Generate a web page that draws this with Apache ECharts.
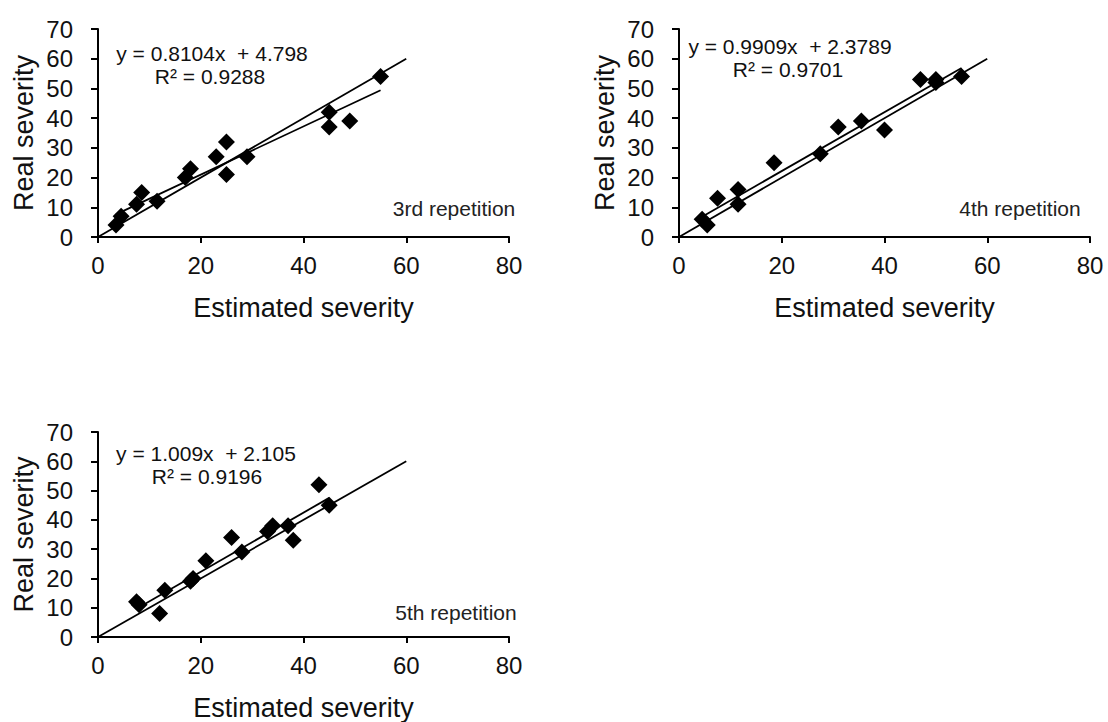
<!DOCTYPE html>
<html>
<head>
<meta charset="utf-8">
<script src="https://cdn.jsdelivr.net/npm/echarts@6/dist/echarts.min.js"></script>
<style>
html,body{margin:0;padding:0;background:#fff;}
#chart{width:1108px;height:722px;}
</style>
</head>
<body>
<div id="chart"></div>
<script>
// ---- data ----
const rep3Estimated = [3.5, 4.5, 7.5, 8.5, 11.5, 17, 18, 23, 25, 25, 29, 45, 45, 49, 55];
const rep3Real      = [4, 7, 11, 15, 12, 20, 23, 27, 32, 21, 27, 42, 37, 39, 54];
const rep4Estimated = [4.5, 5.5, 7.5, 11.5, 11.5, 18.5, 27.5, 31, 35.5, 40, 47, 50, 50, 55];
const rep4Real      = [6, 4, 13, 16, 11, 25, 28, 37, 39, 36, 53, 53, 52, 54];
const rep5Estimated = [7.5, 8, 12, 13, 18, 18.5, 21, 26, 28, 33, 34, 37, 38, 43, 45];
const rep5Real      = [12, 11, 8, 16, 19, 20, 26, 34, 29, 36, 38, 38, 33, 52, 45];
const fitSlope     = [0.8104, 0.9909, 1.009];
const fitIntercept = [4.798, 2.3789, 2.105];
const fitR2        = ['0.9288', '0.9701', '0.9196'];
const repLabels    = ['3rd repetition', '4th repetition', '5th repetition'];
const identityRange = [0, 60];
const xTicks = [0, 20, 40, 60, 80];
const yTicks = [0, 10, 20, 30, 40, 50, 60, 70];

const panels = [
  {est: rep3Estimated, real: rep3Real},
  {est: rep4Estimated, real: rep4Real},
  {est: rep5Estimated, real: rep5Real}
];

// ---- layout ----
const grids = [
  {left: 98, top: 29, width: 411, height: 208},
  {left: 679, top: 29, width: 411, height: 208},
  {left: 98, top: 432, width: 411, height: 208}
];
const FONT = 'Liberation Sans, Arial, sans-serif';
const eqPos = [[212, 53, 210, 76], [790, 46, 788, 69], [206, 453, 207, 476]];
const repPos = [[454, 208], [1020, 208], [456, 612]];

const option = {
  animation: false,
  backgroundColor: '#fff',
  grid: grids.map(g => Object.assign({containLabel: false}, g)),
  xAxis: grids.map((g, i) => ({
    gridIndex: i, type: 'value', min: xTicks[0], max: xTicks[xTicks.length - 1], interval: xTicks[1] - xTicks[0],
    name: 'Estimated severity', nameLocation: 'middle', nameGap: 57,
    nameTextStyle: {fontFamily: FONT, fontSize: 27, color: '#111'},
    axisLine: {show: true, onZero: false, lineStyle: {color: '#000', width: 2}},
    axisTick: {show: true, inside: false, length: 6, lineStyle: {color: '#000', width: 2}},
    axisLabel: {fontFamily: FONT, fontSize: 24, color: '#111', margin: 16},
    splitLine: {show: false}
  })),
  yAxis: grids.map((g, i) => ({
    gridIndex: i, type: 'value', min: yTicks[0], max: yTicks[yTicks.length - 1], interval: yTicks[1] - yTicks[0],
    name: 'Real severity', nameLocation: 'middle', nameGap: 61, nameRotate: 90,
    nameTextStyle: {fontFamily: FONT, fontSize: 27, color: '#111'},
    axisLine: {show: true, onZero: false, lineStyle: {color: '#000', width: 2}},
    axisTick: {show: true, inside: false, length: 7, lineStyle: {color: '#000', width: 2}},
    axisLabel: {fontFamily: FONT, fontSize: 24, color: '#111', margin: 25},
    splitLine: {show: false}
  })),
  series: [],
  graphic: []
};

panels.forEach((p, i) => {
  const pts = p.est.map((x, k) => [x, p.real[k]]);
  const minX = Math.min.apply(null, p.est);
  const maxX = Math.max.apply(null, p.est);
  option.series.push({
    type: 'line', xAxisIndex: i, yAxisIndex: i, symbol: 'none', silent: true,
    lineStyle: {color: '#000', width: 1.8},
    data: identityRange.map(v => [v, v]), z: 2
  });
  option.series.push({
    type: 'line', xAxisIndex: i, yAxisIndex: i, symbol: 'none', silent: true,
    lineStyle: {color: '#000', width: 1.8},
    data: [minX, maxX].map(x => [x, fitSlope[i] * x + fitIntercept[i]]), z: 2
  });
  option.series.push({
    type: 'scatter', xAxisIndex: i, yAxisIndex: i, symbol: 'diamond', symbolSize: 17,
    itemStyle: {color: '#000', opacity: 1}, data: pts, z: 3
  });
  const e = eqPos[i];
  option.graphic.push({type: 'text', x: e[0], y: e[1], style: {
    text: 'y = ' + fitSlope[i] + 'x  + ' + fitIntercept[i], fontFamily: FONT, fontSize: 21, fill: '#111',
    align: 'center', verticalAlign: 'middle'}});
  option.graphic.push({type: 'text', x: e[2], y: e[3], style: {
    text: 'R² = ' + fitR2[i], fontFamily: FONT, fontSize: 21, fill: '#111',
    align: 'center', verticalAlign: 'middle'}});
  option.graphic.push({type: 'text', x: repPos[i][0], y: repPos[i][1], style: {
    text: repLabels[i], fontFamily: FONT, fontSize: 21, fill: '#222',
    align: 'center', verticalAlign: 'middle'}});
});

const chart = echarts.init(document.getElementById('chart'), null, {renderer: 'svg'});
chart.setOption(option);
</script>
</body>
</html>
